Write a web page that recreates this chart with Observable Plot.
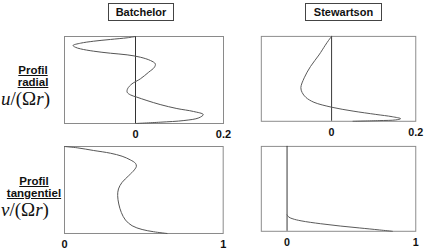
<!DOCTYPE html>
<html>
<head>
<meta charset="utf-8">
<script src="https://cdn.jsdelivr.net/npm/d3@7"></script>
<script src="https://cdn.jsdelivr.net/npm/@observablehq/plot@0.6"></script>
<style>
  html, body { margin: 0; padding: 0; background: #fff; }
  #wrap { position: relative; width: 427px; height: 252px; overflow: hidden; background: #fff; font-family: "Liberation Sans", Arial, sans-serif; }
  .panel { position: absolute; }
  .title { position: absolute; border: 1px solid #444; font-weight: bold; font-size: 11px; line-height: 16px; text-align: center; color: #111; background: #fff; }
  .lab { position: absolute; font-weight: bold; font-size: 11.5px; line-height: 11.5px; text-decoration: underline; color: #111; text-align: center; white-space: nowrap; }
  .math { position: absolute; font-family: "Liberation Serif", "DejaVu Serif", serif; font-size: 19px; line-height: 21px; color: #111; white-space: nowrap; }
</style>
</head>
<body>
<div id="wrap"></div>
<script>
// Titles and row labels
const columnTitles = ["Batchelor", "Stewartson"];
const rowLabels = [["Profil", "radial"], ["Profil", "tangentiel"]];
const rowVars = ["u", "v"];

// Tick labels per panel
const radialTicks = [0, 0.2];
const tangentialTicks = [0, 1];

// Batchelor, radial profile u/(Ωr) vs height z (0 bottom, 1 top)
const batchelorRadialU = [0, -0.019, -0.057, -0.095, -0.125, -0.142, -0.137, -0.125, -0.095, -0.057, -0.019, 0.011, 0.034, 0.045, 0.043, 0.030, 0.011, -0.008, -0.018, -0.019, -0.012, 0.003, 0.026, 0.056, 0.094, 0.132, 0.154, 0.144, 0.110, 0.056, 0];
const batchelorRadialZ = [1.0, 0.985, 0.966, 0.946, 0.923, 0.897, 0.877, 0.858, 0.831, 0.808, 0.789, 0.762, 0.724, 0.686, 0.647, 0.590, 0.513, 0.456, 0.399, 0.360, 0.330, 0.303, 0.264, 0.218, 0.172, 0.138, 0.103, 0.065, 0.034, 0.015, 0];

// Stewartson, radial profile
const stewartsonRadialU = [0, -0.007, -0.015, -0.030, -0.050, -0.065, -0.073, -0.070, -0.061, -0.042, 0, 0.051, 0.105, 0.144, 0.164, 0.152, 0.113, 0.051];
const stewartsonRadialZ = [1.0, 0.954, 0.896, 0.781, 0.646, 0.512, 0.397, 0.339, 0.281, 0.224, 0.166, 0.120, 0.081, 0.054, 0.031, 0.016, 0.008, 0];

// Batchelor, tangential profile v/(Ωr)
const batchelorTangV = [0, 0.080, 0.184, 0.289, 0.363, 0.415, 0.447, 0.453, 0.440, 0.405, 0.363, 0.340, 0.335, 0.342, 0.358, 0.384, 0.426, 0.489, 0.562, 0.646];
const batchelorTangZ = [1.0, 0.985, 0.954, 0.923, 0.888, 0.846, 0.807, 0.773, 0.731, 0.665, 0.588, 0.512, 0.435, 0.339, 0.242, 0.155, 0.089, 0.046, 0.020, 0];

// Stewartson, tangential profile
const stewartsonTangV = [0, 0.015, 0.046, 0.109, 0.261, 0.413, 0.565, 0.717, 0.818];
const stewartsonTangZ = [0.193, 0.166, 0.146, 0.123, 0.089, 0.062, 0.039, 0.016, 0];

const wrap = document.getElementById("wrap");

function toRows(xs, zs) { return xs.map((x, i) => ({x, z: zs[i]})); }

function panel({left, top, width, domain, ticks, fmt, xs, zs, zero}) {
  const mT = 4, mB = 18, mL = 8, mR = 12, innerH = 87;
  const chart = Plot.plot({
    width, height: innerH + mT + mB,
    marginTop: mT, marginBottom: mB, marginLeft: mL, marginRight: mR,
    style: {fontFamily: "'Liberation Sans', Arial, sans-serif", fontSize: "11px", color: "#111", background: "transparent", overflow: "visible"},
    x: {domain, ticks, tickFormat: fmt},
    y: {domain: [0, 1], axis: null},
    marks: [
      Plot.frame({stroke: "#8a8a8a", strokeWidth: 1}),
      zero ? Plot.ruleX([0], {stroke: "#333", strokeWidth: 1}) : null,
      Plot.line(toRows(xs, zs), {x: "x", y: "z", curve: "catmull-rom", stroke: "#555", strokeWidth: 1}),
      Plot.axisX({ticks, tickFormat: fmt, tickSize: 0, tickPadding: 7, fontWeight: "bold", fontSize: 11, label: null})
    ]
  });
  const d = document.createElement("div");
  d.className = "panel";
  d.style.left = left + "px";
  d.style.top = top + "px";
  d.appendChild(chart);
  wrap.appendChild(d);
}

const fmtR = d => d === 0 ? "0" : "0.2";
const fmtT = d => String(d);

panel({left: 56, top: 32, width: 179, domain: [-0.1614, 0.2], ticks: radialTicks, fmt: fmtR, xs: batchelorRadialU, zs: batchelorRadialZ, zero: true});
panel({left: 253, top: 32, width: 178.3, domain: [-0.167, 0.2], ticks: radialTicks, fmt: fmtR, xs: stewartsonRadialU, zs: stewartsonRadialZ, zero: true});
panel({left: 56, top: 142, width: 178.7, domain: [0, 1], ticks: tangentialTicks, fmt: fmtT, xs: batchelorTangV, zs: batchelorTangZ, zero: false});
panel({left: 253, top: 142, width: 178.3, domain: [-0.2, 1], ticks: tangentialTicks, fmt: fmtT, xs: stewartsonTangV, zs: stewartsonTangZ, zero: true});

// Column titles
const titlePos = [{left: 108, width: 64}, {left: 305, width: 75}];
columnTitles.forEach((t, i) => {
  const d = document.createElement("div");
  d.className = "title";
  d.style.left = titlePos[i].left + "px";
  d.style.top = "3px";
  d.style.width = titlePos[i].width + "px";
  d.style.height = "16px";
  d.textContent = t;
  wrap.appendChild(d);
});

// Row labels
const labelTops = [65, 176];
const mathTops = [88, 199];
const rowCenters = [33, 34];
rowLabels.forEach((lines, r) => {
  const d = document.createElement("div");
  d.className = "lab";
  d.style.top = labelTops[r] + "px";
  d.style.left = (rowCenters[r] - 40) + "px";
  d.style.width = "80px";
  d.innerHTML = lines.join("<br>");
  wrap.appendChild(d);
  const m = document.createElement("div");
  m.className = "math";
  m.style.top = mathTops[r] + "px";
  m.style.left = "1px";
  m.innerHTML = `<i>${rowVars[r]}</i>/(Ω<i>r</i>)`;
  wrap.appendChild(m);
});
</script>
</body>
</html>
